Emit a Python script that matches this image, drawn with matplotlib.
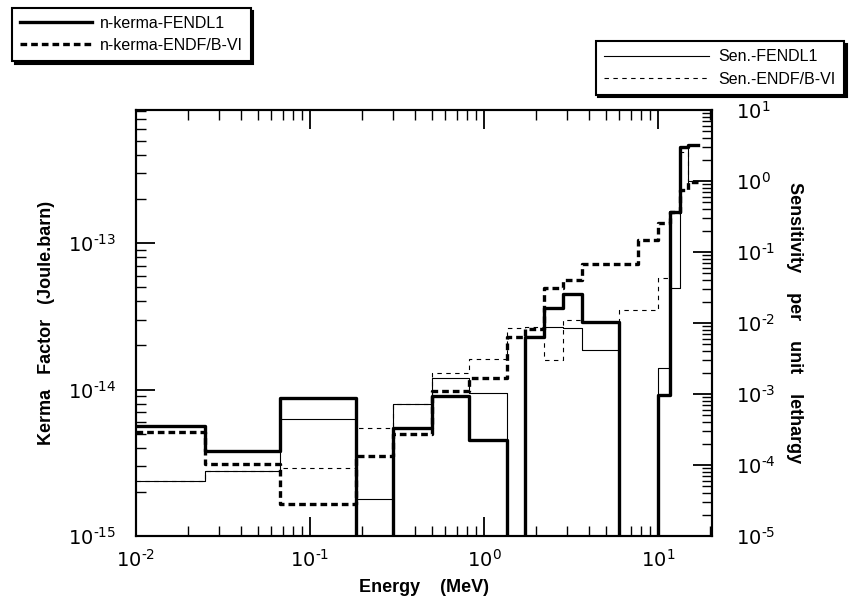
import numpy as np
import matplotlib
matplotlib.use("Agg")
import matplotlib.pyplot as plt
from matplotlib.lines import Line2D
from matplotlib.ticker import FuncFormatter

plt.rcParams['font.family'] = ['Liberation Sans', 'DejaVu Sans']

# energy group boundaries (MeV)
edges = [0.01, 0.025, 0.067, 0.183, 0.3, 0.5, 0.82, 1.35, 1.72, 2.2, 2.85,
         3.65, 6.0, 7.7, 10.0, 11.7, 13.4, 14.9, 17.0]

# kerma factors (Joule.barn), 0 = below the axis
kerma_fendl = [5.6e-15, 3.8e-15, 8.7e-15, 0, 5.5e-15, 9.0e-15, 4.5e-15, 0,
               2.3e-14, 3.6e-14, 4.5e-14, 2.9e-14, 0, 0, 9.2e-15, 1.63e-13,
               4.5e-13, 4.7e-13]
kerma_endf = [5.1e-15, 3.1e-15, 1.65e-15, 3.5e-15, 5.0e-15, 9.8e-15, 1.2e-14,
              2.3e-14, 2.6e-14, 4.9e-14, 5.6e-14, 7.2e-14, 7.2e-14, 1.05e-13,
              1.37e-13, 1.63e-13, 2.3e-13, 2.6e-13]

# sensitivity per unit lethargy
sen_fendl = [6.0e-5, 8.2e-5, 4.4e-4, 3.3e-5, 7.2e-4, 1.68e-3, 1.03e-3, 0,
             6.6e-3, 8.8e-3, 8.5e-3, 4.2e-3, 0, 0, 2.3e-3, 0.031, 2.9, 1.0]
sen_endf = [6.0e-5, 8.2e-5, 9.1e-5, 3.3e-4, 7.2e-4, 2.0e-3, 3.1e-3, 8.5e-3,
            8.8e-3, 3.0e-3, 0.011, 0.0103, 0.0152, 0.0152, 0.043, 0.35, 2.6,
            0.94]

labels_kerma = ['n-kerma-FENDL1', 'n-kerma-ENDF/B-VI']
labels_sen = ['Sen.-FENDL1', 'Sen.-ENDF/B-VI']

x_ticks = [1e-2, 1e-1, 1e0, 1e1]
kerma_ticks = [1e-15, 1e-14, 1e-13]
sen_ticks = [1e-5, 1e-4, 1e-3, 1e-2, 1e-1, 1e0, 1e1]


def steps(vals):
    return list(vals) + [vals[-1]]


def pow10(v, pos):
    e = int(round(np.log10(v)))
    if e < 0:
        return r'$10^{\text{-}%d}$' % -e
    return r'$10^{%d}$' % e


fig = plt.figure(figsize=(8.49, 6.08), dpi=100)
ax = fig.add_axes([0.160, 0.1184, 0.6786, 0.7006])
ax2 = ax.twinx()

thick = 2.4
thin = 0.8
ax.step(edges, steps(kerma_fendl), where='post', color='black', lw=thick)
ax.step(edges, steps(kerma_endf), where='post', color='black', lw=thick,
        dashes=(2.0, 1.2))
ax2.step(edges, steps(sen_fendl), where='post', color='black', lw=thin)
ax2.step(edges, steps(sen_endf), where='post', color='black', lw=thin,
         dashes=(4, 4))

ax.set_xscale('log')
ax.set_yscale('log')
ax2.set_yscale('log')
ax.set_xticks(x_ticks)
ax.set_yticks(kerma_ticks)
ax2.set_yticks(sen_ticks)
ax.set_xlim(0.01, 20.4)
ax.set_ylim(1e-15, 8.1e-13)
ax2.set_ylim(1e-5, 1e1)
ax.xaxis.set_major_formatter(FuncFormatter(pow10))
ax.yaxis.set_major_formatter(FuncFormatter(pow10))
ax2.yaxis.set_major_formatter(FuncFormatter(pow10))

for a in (ax, ax2):
    for s in a.spines.values():
        s.set_linewidth(1.5)

ax.tick_params(axis='both', which='both', direction='in', labelsize=14,
               top=True, right=False)
ax.tick_params(which='major', length=14, width=1.3)
ax.tick_params(which='minor', length=7, width=1.0)
ax.tick_params(axis='x', pad=9)
ax.tick_params(axis='y', pad=14)
ax2.tick_params(axis='y', which='both', direction='in', labelsize=14, pad=17)
ax2.tick_params(which='major', length=14, width=1.3)
ax2.tick_params(which='minor', length=7, width=1.0)

ax.set_xlabel('Energy    (MeV)', fontsize=13, fontweight='bold', labelpad=6)
ax.set_ylabel('Kerma   Factor   (Joule.barn)', fontsize=13,
              fontweight='bold', labelpad=9)
ax2.set_ylabel('Sensitivity    per    unit    lethargy', fontsize=13,
               fontweight='bold', rotation=-90, labelpad=20)

# legends
kh = [Line2D([], [], color='black', lw=thick),
      Line2D([], [], color='black', lw=thick, dashes=(2.0, 1.2))]
sh = [Line2D([], [], color='black', lw=thin),
      Line2D([], [], color='black', lw=thin, dashes=(4, 4))]
shadow = {'color': 'black', 'alpha': 1}
leg1 = fig.legend(kh, labels_kerma, loc='upper left',
                  bbox_to_anchor=(0.014, 0.987), borderaxespad=0,
                  fontsize=11.5, handlelength=4.5, handletextpad=0.5,
                  fancybox=False, edgecolor='black', framealpha=1,
                  shadow=shadow, borderpad=0.5, labelspacing=0.45)
leg1.get_frame().set_linewidth(1.5)
leg2 = fig.legend(sh, labels_sen, loc='upper right',
                  bbox_to_anchor=(0.994, 0.932), borderaxespad=0,
                  fontsize=11.5, handlelength=6.6, handletextpad=0.6,
                  fancybox=False, edgecolor='black', framealpha=1,
                  shadow=shadow, borderpad=0.5, labelspacing=0.45)
leg2.get_frame().set_linewidth(1.5)

fig.savefig('out.png', dpi=100)
